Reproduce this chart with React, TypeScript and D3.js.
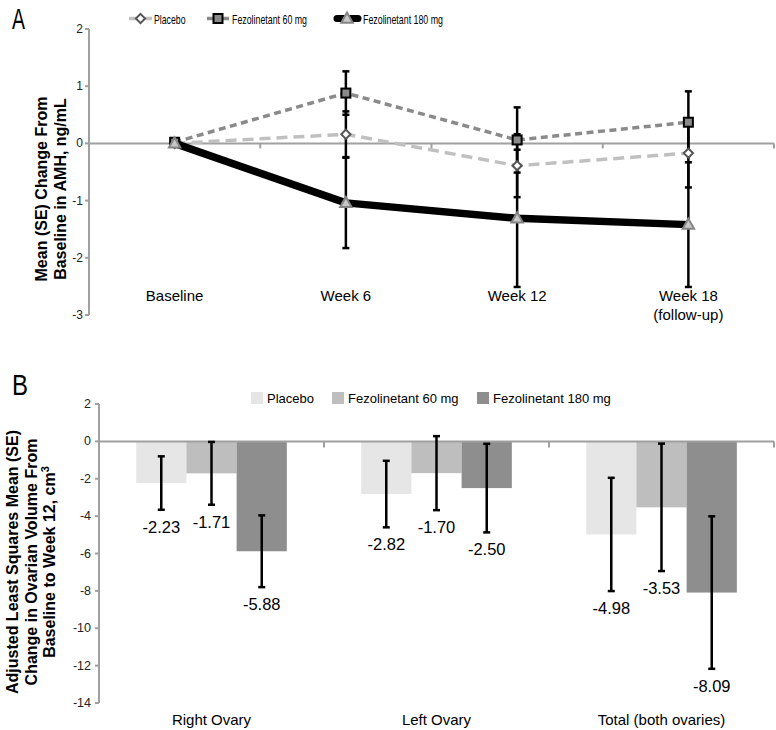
import React from "react";
import * as d3 from "d3";

// ---------- Panel A data ----------
const visitsA = ["Baseline", "Week 6", "Week 12", "Week 18"];
const visitLabelsA = [["Baseline"], ["Week 6"], ["Week 12"], ["Week 18", "(follow-up)"]];
const ticksA = [2, 1, 0, -1, -2, -3];
const placeboMean = [0, 0.16, -0.39, -0.17];
const placeboSE = [0, 0.4, 0.55, 0.6];
const fez60Mean = [0.02, 0.88, 0.06, 0.37];
const fez60SE = [0, 0.38, 0.57, 0.54];
const fez180Mean = [0, -1.04, -1.31, -1.42];
const fez180SE = [0, 0.79, 1.2, 1.09];

// ---------- Panel B data ----------
const sitesB = ["Right Ovary", "Left Ovary", "Total (both ovaries)"];
const groupsB = ["Placebo", "Fezolinetant 60 mg", "Fezolinetant 180 mg"];
const ticksB = [2, 0, -2, -4, -6, -8, -10, -12, -14];
const placeboVol = [-2.23, -2.82, -4.98];
const placeboVolSE = [1.43, 1.78, 3.03];
const fez60Vol = [-1.71, -1.7, -3.53];
const fez60VolSE = [1.68, 1.98, 3.41];
const fez180Vol = [-5.88, -2.5, -8.09];
const fez180VolSE = [1.92, 2.37, 4.08];

const FONT = "'Liberation Sans', Arial, Helvetica, sans-serif";
const AXIS = "#a0a0a0";

function diamond(cx: number, cy: number, r: number) {
  return `M${cx},${cy - r}L${cx + r},${cy}L${cx},${cy + r}L${cx - r},${cy}Z`;
}
function triangle(cx: number, cy: number, r: number) {
  return `M${cx},${cy - r}L${cx + r * 0.95},${cy + r * 0.7}L${cx - r * 0.95},${cy + r * 0.7}Z`;
}

function PanelA() {
  const x = d3.scaleBand<string>().domain(visitsA).range([89, 774]).padding(0);
  const y = d3.scaleLinear().domain([-3, 2]).range([315, 29]);
  const cx = (i: number) => (x(visitsA[i]) as number) + x.bandwidth() / 2;
  const line = d3
    .line<number>()
    .x((_, i) => cx(i))
    .y((d) => y(d));

  const series = [
    { name: "Placebo", mean: placeboMean, se: placeboSE, color: "#c0c0c0", width: 3.5, dash: "11,6" },
    { name: "Fezolinetant 60 mg", mean: fez60Mean, se: fez60SE, color: "#8a8a8a", width: 3.5, dash: "7,4.5" },
    { name: "Fezolinetant 180 mg", mean: fez180Mean, se: fez180SE, color: "#000", width: 7.5, dash: "" },
  ];

  const marker = (k: number, px: number, py: number, key: string) => {
    if (k === 0)
      return <path key={key} d={diamond(px, py, 4.6)} fill="#fff" stroke="#555" strokeWidth={2} />;
    if (k === 1)
      return (
        <rect key={key} x={px - 4.5} y={py - 4.5} width={9} height={9} fill="#8a8a8a" stroke="#000" strokeWidth={2} />
      );
    return <path key={key} d={triangle(px, py, 6)} fill="#c8c8c8" stroke="#858585" strokeWidth={2} />;
  };

  return (
    <g>
      <text x={12} y={29} fontFamily={FONT} fontSize={30} textLength={13} lengthAdjust="spacingAndGlyphs">
        A
      </text>
      {/* legend */}
      <g fontFamily={FONT} fontSize={13.5} fill="#000">
        <line x1={129} x2={152} y1={18.5} y2={18.5} stroke="#c0c0c0" strokeWidth={3.5} />
        {marker(0, 140.5, 18.5, "lg0")}
        <text x={154} y={23.5} textLength={31.5} lengthAdjust="spacingAndGlyphs">Placebo</text>
        <line x1={207} x2={229} y1={18.5} y2={18.5} stroke="#8a8a8a" strokeWidth={3.5} />
        {marker(1, 218, 18.5, "lg1")}
        <text x={232} y={23.5} textLength={75} lengthAdjust="spacingAndGlyphs">Fezolinetant 60 mg</text>
        <line x1={337} x2={358} y1={18.5} y2={18.5} stroke="#000" strokeWidth={7} strokeLinecap="round" />
        {marker(2, 347, 18.5, "lg2")}
        <text x={363} y={23.5} textLength={80} lengthAdjust="spacingAndGlyphs">Fezolinetant 180 mg</text>
      </g>
      {/* y axis */}
      <line x1={89} x2={89} y1={y(2)} y2={y(-3)} stroke={AXIS} strokeWidth={2} />
      {ticksA.map((t) => (
        <g key={t}>
          <line x1={85} x2={89} y1={y(t)} y2={y(t)} stroke={AXIS} strokeWidth={2} />
          <text x={83} y={y(t) + 4} textAnchor="end" fontFamily={FONT} fontSize={12} fill="#222">
            {t}
          </text>
        </g>
      ))}
      {/* zero axis */}
      <line x1={89} x2={774} y1={y(0)} y2={y(0)} stroke={AXIS} strokeWidth={2} />
      {visitsA.map((v) => (
        <line key={v} x1={(x(v) as number) + x.bandwidth()} x2={(x(v) as number) + x.bandwidth()} y1={y(0)} y2={y(0) + 5} stroke={AXIS} strokeWidth={2} />
      ))}
      {/* y title */}
      <text
        transform={`translate(47,189) rotate(-90)`}
        textAnchor="middle"
        fontFamily={FONT}
        fontSize={16}
        fontWeight="bold"
      >
        <tspan x={0} dy={0}>Mean (SE) Change From</tspan>
        <tspan x={0} dy={19}>Baseline in AMH, ng/mL</tspan>
      </text>
      {/* x labels */}
      {visitLabelsA.map((lines, i) => (
        <text key={i} x={cx(i)} y={301} textAnchor="middle" fontFamily={FONT} fontSize={15}>
          {lines.map((l, j) => (
            <tspan key={j} x={cx(i)} dy={j === 0 ? 0 : 19}>
              {l}
            </tspan>
          ))}
        </text>
      ))}
      {/* lines */}
      {series.map((s) => (
        <path
          key={s.name}
          d={line(s.mean) as string}
          fill="none"
          stroke={s.color}
          strokeWidth={s.width}
          strokeDasharray={s.dash || undefined}
          strokeLinejoin="round"
        />
      ))}
      {/* error bars */}
      {series.map((s) =>
        s.mean.map((m, i) =>
          s.se[i] > 0 ? (
            <g key={s.name + i} stroke="#000" strokeWidth={2.5}>
              <line x1={cx(i)} x2={cx(i)} y1={y(m + s.se[i])} y2={y(m - s.se[i])} />
              <line x1={cx(i) - 3.5} x2={cx(i) + 3.5} y1={y(m + s.se[i])} y2={y(m + s.se[i])} />
              <line x1={cx(i) - 3.5} x2={cx(i) + 3.5} y1={y(m - s.se[i])} y2={y(m - s.se[i])} />
            </g>
          ) : null
        )
      )}
      {/* markers */}
      {series.map((s, k) => s.mean.map((m, i) => marker(k, cx(i), y(m), s.name + "m" + i)))}
    </g>
  );
}

function PanelB() {
  const x0 = d3.scaleBand<string>().domain(sitesB).range([99, 774]).padding(0);
  const x1 = d3.scaleBand<string>().domain(groupsB).range([0, x0.bandwidth()]).paddingInner(0).paddingOuter(0.74);
  const y = d3.scaleLinear().domain([-14, 2]).range([703, 404]);
  const colors = ["#e6e6e6", "#bebebe", "#8e8e8e"];
  const vals = [placeboVol, fez60Vol, fez180Vol];
  const ses = [placeboVolSE, fez60VolSE, fez180VolSE];
  const legendX = [251, 332, 477];

  return (
    <g>
      <text x={12} y={395} fontFamily={FONT} fontSize={30} textLength={16} lengthAdjust="spacingAndGlyphs">
        B
      </text>
      {/* legend */}
      {groupsB.map((g, k) => (
        <g key={g}>
          <rect x={legendX[k]} y={392} width={12} height={12} fill={colors[k]} />
          <text x={legendX[k] + 16} y={402.5} fontFamily={FONT} fontSize={13}>
            {g}
          </text>
        </g>
      ))}
      {/* bars */}
      {sitesB.map((s, i) =>
        groupsB.map((g, k) => {
          const bx = (x0(s) as number) + (x1(g) as number);
          const v = vals[k][i];
          return <rect key={s + g} x={bx} y={y(0)} width={x1.bandwidth()} height={y(v) - y(0)} fill={colors[k]} />;
        })
      )}
      {/* y axis */}
      <line x1={99} x2={99} y1={y(2)} y2={y(-14)} stroke={AXIS} strokeWidth={2} />
      {ticksB.map((t) => (
        <g key={t}>
          <line x1={95} x2={99} y1={y(t)} y2={y(t)} stroke={AXIS} strokeWidth={2} />
          <text x={91} y={y(t) + 4} textAnchor="end" fontFamily={FONT} fontSize={12.5} fill="#222">
            {t}
          </text>
        </g>
      ))}
      <line x1={99} x2={774} y1={y(0)} y2={y(0)} stroke={AXIS} strokeWidth={2} />
      {sitesB.map((s) => (
        <line key={s} x1={(x0(s) as number) + x0.bandwidth()} x2={(x0(s) as number) + x0.bandwidth()} y1={y(0)} y2={y(0) + 6} stroke={AXIS} strokeWidth={2} />
      ))}
      {/* error bars and labels */}
      {sitesB.map((s, i) =>
        groupsB.map((g, k) => {
          const c = (x0(s) as number) + (x1(g) as number) + x1.bandwidth() / 2;
          const v = vals[k][i];
          const e = ses[k][i];
          const lo = y(v - e);
          const hi = y(v + e);
          return (
            <g key={s + g + "e"}>
              <g stroke="#000" strokeWidth={2.5}>
                <line x1={c} x2={c} y1={hi} y2={lo} />
                <line x1={c - 3.5} x2={c + 3.5} y1={hi} y2={hi} />
                <line x1={c - 3.5} x2={c + 3.5} y1={lo} y2={lo} />
              </g>
              <text x={c} y={lo + 23} textAnchor="middle" fontFamily={FONT} fontSize={16.5}>
                {v.toFixed(2)}
              </text>
            </g>
          );
        })
      )}
      {/* y title */}
      <text transform={`translate(18,562) rotate(-90)`} textAnchor="middle" fontFamily={FONT} fontSize={16} fontWeight="bold">
        <tspan x={0} dy={0}>Adjusted Least Squares Mean (SE)</tspan>
        <tspan x={0} dy={18.5}>Change in Ovarian Volume From</tspan>
        <tspan x={0} dy={18.5}>
          Baseline to Week 12, cm<tspan fontSize={11} dy={-6}>3</tspan>
        </tspan>
      </text>
      {/* x labels */}
      {sitesB.map((s) => (
        <text key={s} x={(x0(s) as number) + x0.bandwidth() / 2} y={725} textAnchor="middle" fontFamily={FONT} fontSize={15}>
          {s}
        </text>
      ))}
    </g>
  );
}

export default function App() {
  return (
    <svg
      width={776}
      height={730}
      style={{ position: "absolute", left: 0, top: 0, display: "block", background: "#fff" }}
    >
      <rect width={776} height={730} fill="#fff" />
      <PanelA />
      <PanelB />
    </svg>
  );
}
